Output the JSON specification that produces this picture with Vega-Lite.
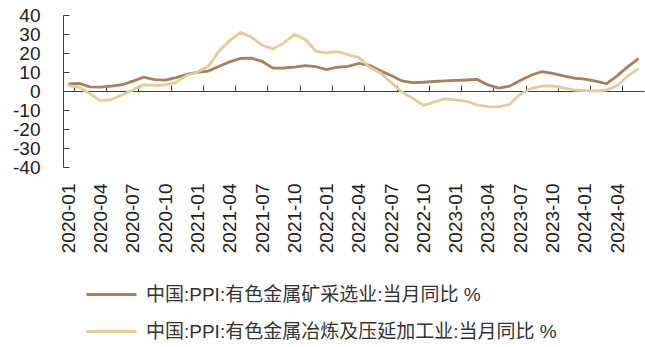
{
  "$schema": "https://vega.github.io/schema/vega-lite/v6.json",
  "width": 581,
  "height": 152,
  "autosize": {"type": "none"},
  "padding": {"left": 63, "top": 15, "right": 1, "bottom": 180},
  "background": "white",
  "config": {"view": {"stroke": null}, "font": "Liberation Sans"},
  "data": {
    "values": [
      {"month": "2020-01", "mining": 3.7, "smelting": 2.8},
      {"month": "2020-02", "mining": 4.0, "smelting": 2.0},
      {"month": "2020-03", "mining": 2.2, "smelting": -1.5},
      {"month": "2020-04", "mining": 2.0, "smelting": -5.2},
      {"month": "2020-05", "mining": 2.6, "smelting": -4.5},
      {"month": "2020-06", "mining": 3.3, "smelting": -2.0},
      {"month": "2020-07", "mining": 5.2, "smelting": 0.5},
      {"month": "2020-08", "mining": 7.3, "smelting": 3.3},
      {"month": "2020-09", "mining": 6.0, "smelting": 3.0},
      {"month": "2020-10", "mining": 5.7, "smelting": 3.2},
      {"month": "2020-11", "mining": 7.0, "smelting": 4.5},
      {"month": "2020-12", "mining": 8.7, "smelting": 8.2},
      {"month": "2021-01", "mining": 9.8, "smelting": 10.0},
      {"month": "2021-02", "mining": 10.5, "smelting": 13.0},
      {"month": "2021-03", "mining": 13.0, "smelting": 21.0},
      {"month": "2021-04", "mining": 15.3, "smelting": 26.5},
      {"month": "2021-05", "mining": 17.2, "smelting": 30.8},
      {"month": "2021-06", "mining": 17.3, "smelting": 28.4},
      {"month": "2021-07", "mining": 15.6, "smelting": 24.2},
      {"month": "2021-08", "mining": 12.0, "smelting": 22.1},
      {"month": "2021-09", "mining": 12.1, "smelting": 25.2},
      {"month": "2021-10", "mining": 12.6, "smelting": 29.8},
      {"month": "2021-11", "mining": 13.4, "smelting": 27.3},
      {"month": "2021-12", "mining": 12.8, "smelting": 21.0},
      {"month": "2022-01", "mining": 11.3, "smelting": 20.1},
      {"month": "2022-02", "mining": 12.5, "smelting": 20.7},
      {"month": "2022-03", "mining": 13.0, "smelting": 19.1},
      {"month": "2022-04", "mining": 14.5, "smelting": 17.6},
      {"month": "2022-05", "mining": 13.5, "smelting": 12.5},
      {"month": "2022-06", "mining": 10.6, "smelting": 9.5},
      {"month": "2022-07", "mining": 8.2, "smelting": 4.5},
      {"month": "2022-08", "mining": 5.3, "smelting": -0.5},
      {"month": "2022-09", "mining": 4.4, "smelting": -3.8},
      {"month": "2022-10", "mining": 4.6, "smelting": -7.6},
      {"month": "2022-11", "mining": 5.0, "smelting": -5.8},
      {"month": "2022-12", "mining": 5.3, "smelting": -4.1},
      {"month": "2023-01", "mining": 5.6, "smelting": -4.7},
      {"month": "2023-02", "mining": 5.8, "smelting": -5.4},
      {"month": "2023-03", "mining": 6.1, "smelting": -7.3},
      {"month": "2023-04", "mining": 3.2, "smelting": -8.2},
      {"month": "2023-05", "mining": 1.5, "smelting": -8.4},
      {"month": "2023-06", "mining": 2.5, "smelting": -7.0},
      {"month": "2023-07", "mining": 5.5, "smelting": -1.6},
      {"month": "2023-08", "mining": 8.3, "smelting": 1.3},
      {"month": "2023-09", "mining": 10.2, "smelting": 2.5},
      {"month": "2023-10", "mining": 9.3, "smelting": 2.7},
      {"month": "2023-11", "mining": 8.0, "smelting": 1.7},
      {"month": "2023-12", "mining": 6.8, "smelting": 0.5},
      {"month": "2024-01", "mining": 6.3, "smelting": 0.2},
      {"month": "2024-02", "mining": 5.2, "smelting": 0.0},
      {"month": "2024-03", "mining": 3.8, "smelting": 0.5},
      {"month": "2024-04", "mining": 8.0, "smelting": 2.8},
      {"month": "2024-05", "mining": 12.8, "smelting": 8.0},
      {"month": "2024-06", "mining": 17.0, "smelting": 11.8}
    ]
  },
  "transform": [{"fold": ["mining", "smelting"], "as": ["series", "value"]}],
  "mark": {"type": "line", "strokeWidth": 2.8, "clip": false},
  "encoding": {
    "x": {
      "field": "month",
      "type": "ordinal",
      "sort": null,
      "scale": {"type": "band", "paddingInner": 0, "paddingOuter": 0},
      "axis": {
        "title": null,
        "orient": "bottom",
        "offset": -76,
        "values": ["2020-01", "2020-04", "2020-07", "2020-10", "2021-01", "2021-04", "2021-07", "2021-10", "2022-01", "2022-04", "2022-07", "2022-10", "2023-01", "2023-04", "2023-07", "2023-10", "2024-01", "2024-04"],
        "tickBand": "extent",
        "tickSize": -6,
        "tickColor": "#404040",
        "domainColor": "#404040",
        "labelAngle": -90,
        "labelPadding": 98,
        "labelFontSize": 19,
        "labelColor": "#222222",
        "grid": false
      }
    },
    "y": {
      "field": "value",
      "type": "quantitative",
      "scale": {"domain": [-40, 40], "nice": false, "zero": false},
      "axis": {
        "title": null,
        "values": [-40, -30, -20, -10, 0, 10, 20, 30, 40],
        "labelExpr": "'' + datum.value",
        "tickSize": -6,
        "tickColor": "#404040",
        "domainColor": "#404040",
        "labelPadding": 29,
        "labelFontSize": 19,
        "labelColor": "#222222",
        "grid": false
      }
    },
    "color": {
      "field": "series",
      "type": "nominal",
      "scale": {"domain": ["mining", "smelting"], "range": ["#A8805A", "#E2CC9C"]},
      "legend": {
        "title": null,
        "orient": "none",
        "legendX": 22,
        "legendY": 253,
        "padding": 0,
        "symbolType": "stroke",
        "symbolSize": 2500,
        "symbolStrokeWidth": 3,
        "labelFont": "Liberation Sans, Noto Sans CJK SC",
        "labelFontSize": 19,
        "labelColor": "#333333",
        "labelLimit": 600,
        "labelOffset": 8,
        "rowPadding": -12,
        "labelExpr": "datum.value === 'mining' ? '中国:PPI:有色金属矿采选业:当月同比 %' : '中国:PPI:有色金属冶炼及压延加工业:当月同比 %'"
      }
    }
  }
}
